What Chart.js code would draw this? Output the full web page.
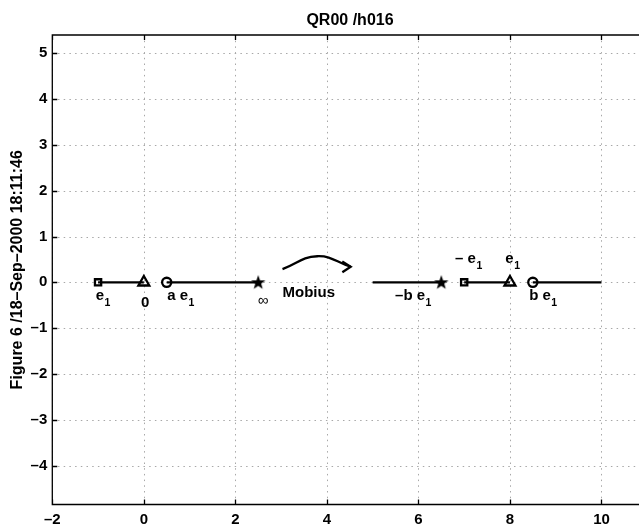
<!DOCTYPE html>
<html>
<head>
<meta charset="utf-8">
<script src="https://cdn.jsdelivr.net/npm/chart.js@4/dist/chart.umd.min.js"></script>
<style>
html, body { margin: 0; padding: 0; background: #fff; overflow: hidden; }
#wrap { position: relative; width: 639px; height: 527px; }
</style>
</head>
<body>
<div id="wrap"><canvas id="plot" width="639" height="527"></canvas></div>
<script>
// axis setup
var titleText = 'QR00 /h016';
var yTitleText = 'Figure 6 /18\u2013Sep\u20132000 18:11:46';
var xTicks = [-2, 0, 2, 4, 6, 8, 10];
var yTicks = [-4, -3, -2, -1, 0, 1, 2, 3, 4, 5];
var xRange = [-2, 10.82];   // right side of the axes box is cut off by the figure
var yRange = [-4.85, 5.4];

// segments on the real line (before / after the Mobius map)
var segA = [-1, 0];      // square .. triangle
var segB = [0.5, 2.5];   // circle .. star
var segC = [5, 6.5];     // .. star
var segD = [7, 8];       // square .. triangle
var segE = [8.5, 10];    // circle ..
var segAMarks = ['rect', 'triangle'];
var segBMarks = ['circle', 'star'];
var segCMarks = [false, 'star'];
var segDMarks = ['rect', 'triangle'];
var segEMarks = ['circle', false];

// curved arrow
var arrowX = [3.03, 3.79, 4.52];
var arrowY = [0.29, 0.57, 0.34];

// text annotations (left x, baseline y in data units)
var labelText = ['e', '0', 'a e', '\u221e', 'Mobius', '\u2013b e', '\u2013 e', 'e', 'b e'];
var labelSub  = ['1', '',  '1',   '',       '',       '1',        '1',        '1', '1'];
var labelX    = [-1.05, -0.06, 0.51, 2.49, 3.03, 5.49, 6.80, 7.90, 8.42];
var labelY    = [-0.38, -0.53, -0.38, -0.49, -0.32, -0.39, 0.42, 0.42, -0.39];

var FONT = "'Liberation Sans', Arial, Helvetica, sans-serif";

var makeStar = function() {
    var c = document.createElement('canvas');
    c.width = 16; c.height = 16;
    var g = c.getContext('2d');
    g.fillStyle = '#000';
    g.beginPath();
    for (var i = 0; i < 10; i++) {
        var r = (i % 2 === 0) ? 7.6 : 3.1;
        var a = -Math.PI / 2 + i * Math.PI / 5;
        var px = 8 + r * Math.cos(a), py = 8.4 + r * Math.sin(a);
        if (i === 0) g.moveTo(px, py); else g.lineTo(px, py);
    }
    g.closePath();
    g.fill();
    return c;
};
var starImg = makeStar();

var markStyle = function(m) {
    if (m === 'star') return starImg;
    return m || 'circle';
};
var markRadius = function(m) {
    if (!m) return 0;
    if (m === 'rect') return 4.4;
    if (m === 'triangle') return 6.3;
    if (m === 'circle') return 4.6;
    return 8;
};

var segment = function(xs, marks) {
    return {
        data: xs.map(function(v) { return { x: v, y: 0 }; }),
        borderColor: '#000',
        borderWidth: 2.3,
        pointStyle: marks.map(markStyle),
        pointRadius: marks.map(markRadius),
        pointBorderColor: '#000',
        pointBackgroundColor: 'rgba(0,0,0,0)',
        pointBorderWidth: 2.3,
        tension: 0
    };
};

var datasets = [
    segment(segA, segAMarks),
    segment(segB, segBMarks),
    segment(segC, segCMarks),
    segment(segD, segDMarks),
    segment(segE, segEMarks),
    {
        data: arrowX.map(function(v, i) { return { x: v, y: arrowY[i] }; }),
        borderColor: '#000',
        borderWidth: 2.3,
        pointRadius: 0,
        tension: 0.45
    }
];

// dotted grid drawn at the tick positions of the scales
var dottedGrid = {
    id: 'dottedGrid',
    beforeDatasetsDraw: function(chart) {
        var ctx = chart.ctx, a = chart.chartArea;
        var xs = chart.scales.x, ys = chart.scales.y;
        ctx.save();
        ctx.strokeStyle = '#a8a8a8';
        ctx.lineWidth = 1;
        ctx.setLineDash([1.5, 4.2]);
        ctx.beginPath();
        xTicks.forEach(function(v) {
            var p = Math.round(xs.getPixelForValue(v)) + 0.5;
            ctx.moveTo(p, a.top); ctx.lineTo(p, a.bottom);
        });
        yTicks.forEach(function(v) {
            var p = Math.round(ys.getPixelForValue(v)) + 0.5;
            ctx.moveTo(a.left, p); ctx.lineTo(a.right, p);
        });
        ctx.stroke();
        ctx.restore();
    }
};

// frame, inward ticks, arrow head, title and text labels
var decor = {
    id: 'decor',
    afterDatasetsDraw: function(chart) {
        var ctx = chart.ctx, a = chart.chartArea;
        var xs = chart.scales.x, ys = chart.scales.y;
        ctx.save();
        ctx.strokeStyle = '#000';
        ctx.lineWidth = 1.3;
        ctx.beginPath();
        ctx.moveTo(a.right + 2, a.top); ctx.lineTo(a.left, a.top);
        ctx.lineTo(a.left, a.bottom); ctx.lineTo(a.right + 2, a.bottom);
        xTicks.forEach(function(v) {
            var p = Math.round(xs.getPixelForValue(v)) + 0.5;
            ctx.moveTo(p, a.top); ctx.lineTo(p, a.top + 5);
            ctx.moveTo(p, a.bottom); ctx.lineTo(p, a.bottom - 5);
        });
        yTicks.forEach(function(v) {
            var p = Math.round(ys.getPixelForValue(v)) + 0.5;
            ctx.moveTo(a.left, p); ctx.lineTo(a.left + 5, p);
        });
        ctx.stroke();

        // arrow head
        var n = arrowX.length - 1;
        var tx = xs.getPixelForValue(arrowX[n]), ty = ys.getPixelForValue(arrowY[n]);
        var sx = xs.getPixelForValue(arrowX[0]), sy = ys.getPixelForValue(arrowY[0]);
        var ang = Math.atan2(ty - sy, tx - sx);
        ctx.lineWidth = 2.3;
        ctx.beginPath();
        ctx.moveTo(tx + 10 * Math.cos(ang + Math.PI - 0.55), ty + 10 * Math.sin(ang + Math.PI - 0.55));
        ctx.lineTo(tx, ty);
        ctx.lineTo(tx + 10 * Math.cos(ang + Math.PI + 0.6), ty + 10 * Math.sin(ang + Math.PI + 0.6));
        ctx.stroke();

        // title, centred over the full (uncut) axes box
        ctx.fillStyle = '#000';
        ctx.font = 'bold 16px ' + FONT;
        ctx.textAlign = 'center';
        ctx.textBaseline = 'alphabetic';
        ctx.fillText(titleText, 350, 25);

        // labels
        ctx.textAlign = 'left';
        labelText.forEach(function(t, i) {
            var px = xs.getPixelForValue(labelX[i]);
            var py = ys.getPixelForValue(labelY[i]);
            ctx.font = (t === '\u221e' ? '' : 'bold ') + '15px ' + FONT;
            ctx.fillText(t, px, py);
            if (labelSub[i]) {
                var w = ctx.measureText(t).width;
                ctx.font = 'bold 10.5px ' + FONT;
                ctx.fillText(labelSub[i], px + w + 0.5, py + 6);
            }
        });
        ctx.restore();
    }
};

var fmt = function(v) {
    return v < 0 ? '\u2013' + Math.abs(v) : String(v);
};

new Chart(document.getElementById('plot'), {
    type: 'line',
    data: { datasets: datasets },
    options: {
        responsive: false,
        animation: false,
        layout: { autoPadding: false, padding: { top: 35, right: 0, left: 0, bottom: 0 } },
        plugins: { legend: { display: false }, tooltip: { enabled: false }, title: { display: false } },
        scales: {
            x: {
                type: 'linear',
                min: xRange[0], max: xRange[1],
                afterBuildTicks: function(s) { s.ticks = xTicks.map(function(v) { return { value: v }; }); },
                afterFit: function(s) { s.height = 22.5; s.paddingLeft = 0; s.paddingRight = 0; },
                grid: { display: false, drawTicks: false },
                border: { display: false },
                ticks: { color: '#000', font: { family: FONT, size: 15, weight: 'bold' }, padding: 6, maxRotation: 0, callback: fmt }
            },
            y: {
                type: 'linear',
                min: yRange[0], max: yRange[1],
                afterBuildTicks: function(s) { s.ticks = yTicks.map(function(v) { return { value: v }; }); },
                afterFit: function(s) { s.width = 52.3; s.paddingTop = 0; s.paddingBottom = 0; },
                grid: { display: false, drawTicks: false },
                border: { display: false },
                title: { display: true, text: yTitleText, color: '#000', font: { family: FONT, size: 16, weight: 'bold' }, padding: { top: 8, bottom: 0 } },
                ticks: { color: '#000', font: { family: FONT, size: 15, weight: 'bold' }, padding: 5, callback: fmt }
            }
        }
    },
    plugins: [dottedGrid, decor]
});
</script>
</body>
</html>
